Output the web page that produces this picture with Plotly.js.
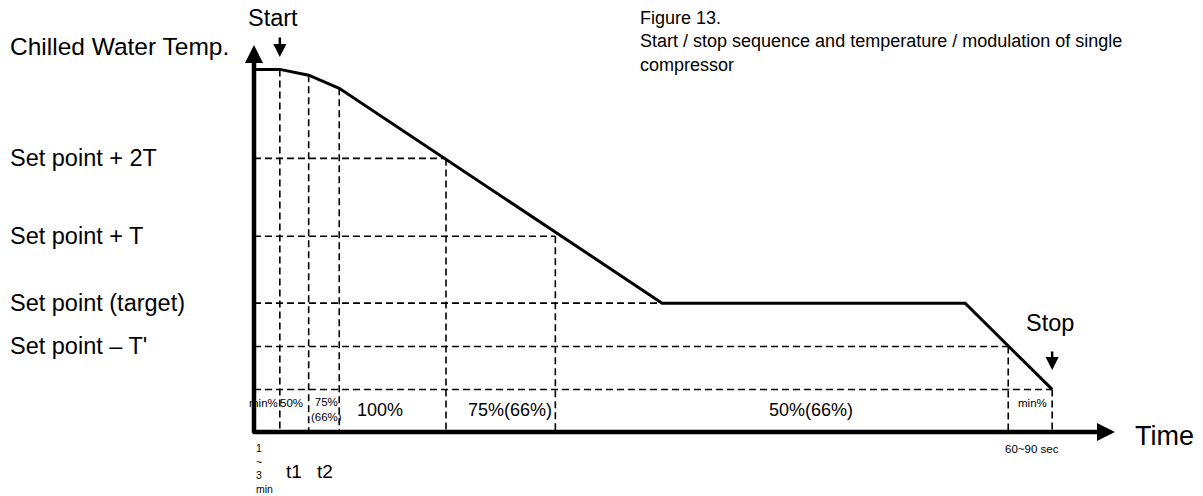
<!DOCTYPE html>
<html>
<head>
<meta charset="utf-8">
<script src="https://cdn.plot.ly/plotly-3.0.1.min.js"></script>
<style>html,body{margin:0;padding:0;background:#fff;}#chart{width:1203px;height:496px;}</style>
</head>
<body>
<div id="chart"></div>
<script>
// ---- data (arbitrary time / temperature units) ----
const curveTime = [0, 3.0, 6.35, 9.9, 47.4, 82.6, 92.7];
const curveTemp = [93.7, 93.7, 92.2, 88.8, 33.3, 33.3, 11.0];

const levelNames = ['Set point + 2T', 'Set point + T', 'Set point (target)', 'Set point \u2013 T\'', ''];
const levelTemps = [70.7, 50.6, 33.3, 22.1, 11.0];
const levelEndTime = [22.3, 35.0, 47.4, 87.6, 92.7];

const stageTimes = [3.0, 6.35, 9.9, 22.3, 35.0, 87.6, 92.7];
const stageTopTemps = [93.7, 92.2, 88.8, 70.7, 50.6, 22.1, 11.0];

const stageLabels = ['min%', '50%', '75%<br>(66%)', '100%', '75%(66%)', '50%(66%)', 'min%'];
const stageLabelSmall = [true, true, true, false, false, false, true];

const titleLines = ['Figure 13.', 'Start / stop sequence and temperature / modulation of single', 'compressor'];

// ---- layout helpers (positions in the same units; axis ranges are 0..100) ----
const stageLabelX = [1.16, 4.4, 8.4, 14.6, 29.7, 64.7, 90.4];
const FONT = 'Liberation Sans, Arial, sans-serif';
const XMAX = 100, YMAX = 100;

// dashed guide lines built from the data
const dx = [], dy = [];
levelTemps.forEach((t, i) => { dx.push(0, levelEndTime[i], null); dy.push(t, t, null); });
stageTimes.forEach((s, i) => { dx.push(s, s, null); dy.push(stageTopTemps[i], 0, null); });

const traces = [
  {x: dx, y: dy, mode: 'lines', line: {color: '#000', width: 1.6, dash: '7px,4px'}, hoverinfo: 'skip', showlegend: false},
  {x: curveTime, y: curveTemp, mode: 'lines', line: {color: '#000', width: 3}, hoverinfo: 'skip', showlegend: false}
];

const ann = [];
// texts use paper refs so they may sit outside the plotting area
const txt = (text, x, y, size, extra) => ann.push(Object.assign({
  text: text, x: x / XMAX, y: y / YMAX, xref: 'paper', yref: 'paper', showarrow: false,
  xanchor: 'center', yanchor: 'middle',
  font: {family: FONT, size: size, color: '#000'}
}, extra || {}));

// stage labels
stageLabels.forEach((s, i) => {
  if (stageLabelSmall[i]) txt(s, stageLabelX[i], s.indexOf('<br>') >= 0 ? 5.7 : 7.5, 11.5);
  else txt(s, stageLabelX[i], 5.7, 18);
});

// level labels on the left
txt('Chilled Water Temp.', -28.6, 99.5, 24.5, {xanchor: 'left'});
levelNames.forEach((n, i) => { if (n) txt(n, -28.6, levelTemps[i], 23.5, {xanchor: 'left'}); });

// title block
txt(titleLines.join('<br>'), 44.6, 110.0, 18, {xanchor: 'left', yanchor: 'top', align: 'left'});

// misc texts
txt('Start', 2.2, 107, 23.5);
txt('Stop', 92.4, 28.2, 23.5);
txt('Time', 105.8, -1.0, 27);
txt('60~90 sec', 90.4, -4.4, 11.5);
txt('1<br>~<br>3<br>min', 0.0, -2.0, 10.5, {xanchor: 'left', yanchor: 'top', align: 'left'});
txt('t1', 4.6, -10.1, 19);
txt('t2', 8.2, -10.1, 19);

// axis arrows
const arrow = (x, y, ax, ay, w, size) => ann.push({
  x: x, y: y, ax: ax, ay: ay, xref: 'x', yref: 'y', axref: 'x', ayref: 'y',
  text: '', showarrow: true, arrowhead: 2, arrowwidth: w, arrowsize: size, arrowcolor: '#000'
});
arrow(XMAX, 0, -0.3, 0, 4.5, 0.8);        // time axis
arrow(0, YMAX, 0, -0.7, 4.5, 0.8);        // temperature axis
// start / stop markers (pixel offsets for the tail)
ann.push({x: curveTime[1], y: 96.9, xref: 'x', yref: 'y', ax: 0, ay: -21, text: '', showarrow: true,
  arrowhead: 2, arrowwidth: 2.5, arrowsize: 1.05, arrowcolor: '#000'});
ann.push({x: curveTime[curveTime.length - 1], y: 16.0, xref: 'x', yref: 'y', ax: 0, ay: -20, text: '', showarrow: true,
  arrowhead: 2, arrowwidth: 2.5, arrowsize: 1.05, arrowcolor: '#000'});

const layout = {
  width: 1203, height: 496,
  margin: {l: 254, r: 88, t: 45, b: 64, pad: 0},
  paper_bgcolor: '#fff', plot_bgcolor: '#fff',
  xaxis: {range: [0, XMAX], visible: false, fixedrange: true},
  yaxis: {range: [0, YMAX], visible: false, fixedrange: true},
  showlegend: false,
  annotations: ann,
  font: {family: FONT, color: '#000'}
};

Plotly.newPlot('chart', traces, layout, {staticPlot: true, displayModeBar: false});
</script>
</body>
</html>
